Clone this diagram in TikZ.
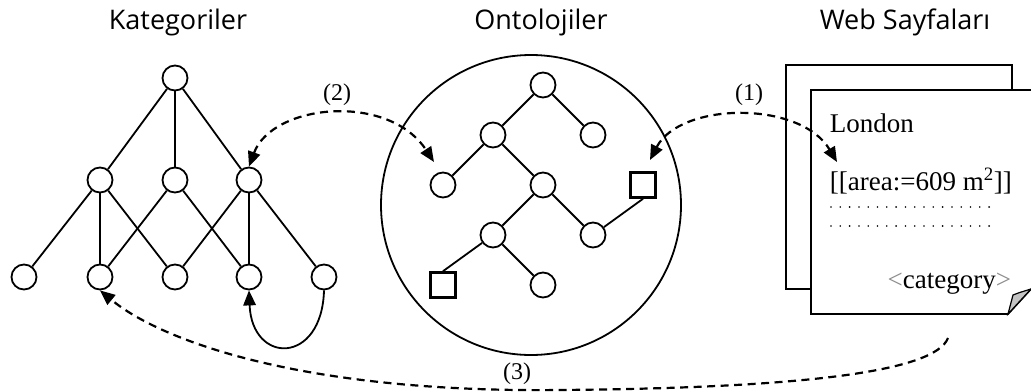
\documentclass[tikz,border=0pt]{standalone}
\usepackage{fontspec}
\setmainfont{Liberation Serif}
\newfontfamily\headfont{Open Sans}
\usetikzlibrary{arrows.meta}
\definecolor{foldgray}{HTML}{C4C4C4}
\definecolor{markgray}{HTML}{8C8C8C}

\begin{document}
\begin{tikzpicture}[x=1pt, y=-1pt, line width=1.8pt,
	>={Triangle[length=15pt, width=12.5pt]},
	vertex/.style={circle, draw, minimum size=25pt, inner sep=0pt},
	leaf/.style={rectangle, draw, minimum size=25pt, inner sep=0pt, line width=2.6pt},
	head/.style={font=\headfont\fontsize{27}{32}\selectfont, anchor=base},
	tag/.style={font=\fontsize{24}{28}\selectfont},
	pagetext/.style={font=\fontsize{27}{32}\selectfont, inner sep=0pt},
	link/.style={dash pattern=on 8pt off 5.5pt, line width=2.2pt}]
	\useasboundingbox (0,0) rectangle (1031,391);
	\clip (0,0) rectangle (1031,391);

	\node[head] (kattitle) at (178,29) {Kategoriler};
	\node[head] (onttitle) at (541,29) {Ontolojiler};
	\node[head] (webtitle) at (905,29) {Web Sayfaları};

	% category lattice
	\node[vertex] (k0) at (175,78) {};
	\foreach \name/\x in {k1/100, k2/175, k3/249}
		\node[vertex] (\name) at (\x,180) {};
	\foreach \name/\x in {b1/24, b2/100, b3/175, b4/249, b5/324}
		\node[vertex] (\name) at (\x,277) {};
	\foreach \a/\b in {k0/k1, k0/k2, k0/k3, k1/b1, k1/b2, k1/b3,
			k2/b2, k2/b4, k3/b3, k3/b4, k3/b5}
		\draw (\a) -- (\b);
	\draw[->] (b5.south) .. controls (322,365) and (252,365) .. (b4.south);

	% ontology tree
	\node[circle, draw, minimum size=300pt, inner sep=0pt] (onto) at (531,205) {};
	\node[vertex] (o0) at (543,85) {};
	\node[vertex] (o1) at (493,135) {};
	\node[vertex] (o2) at (593,135) {};
	\node[vertex] (o3) at (443,185) {};
	\node[vertex] (o4) at (543,185) {};
	\node[leaf] (s1) at (643,185) {};
	\node[vertex] (o5) at (493,235) {};
	\node[vertex] (o6) at (593,235) {};
	\node[leaf] (s2) at (443,285) {};
	\node[vertex] (o7) at (543,285) {};
	\foreach \a/\b in {o0/o1, o0/o2, o1/o3, o1/o4, o4/o5, o4/o6, o5/o7}
		\draw (\a) -- (\b);
	\draw (o6) -- (s1.south);
	\draw (o5) -- (s2.north);

	% web pages
	\draw (786,65) rectangle (1012,289);
	\filldraw[fill=white] (1045,90) -- (811,90) -- (811,314) -- (1008,314) -- (1031,289);
	\filldraw[fill=foldgray, line width=1.2pt] (1008,314) -- (1013,295)
		.. controls (1018,293) .. (1031,289) -- cycle;
	\node[pagetext, anchor=base west] (london) at (829,132) {London};
	\node[pagetext, anchor=base west] (area) at (829,190) {[[area:=609 m\textsuperscript{2}]]};
	\foreach \y in {207,226}
		\foreach \i in {0,...,17}
			\fill (831+\i*9.3,\y) circle[radius=0.9pt];
	\node[pagetext, anchor=base east] (cat) at (1012,288)
		{\textcolor{markgray}{<}category\textcolor{markgray}{>}};

	% mappings between the three parts
	\coordinate (in2) at (434,162);
	\coordinate (in1) at (650,160);
	\coordinate (out1) at (837,162);
	\coordinate (out3) at (948,338);
	\draw[link, <->] (k3.north) .. controls (272,104) and (388,92) .. (in2);
	\draw[link, <->] (in1) .. controls (680,102) and (800,100) .. (out1);
	\draw[link, ->] (out3) .. controls (935,372) and (800,388) .. (560,390)
		.. controls (300,393) and (160,340) .. (b2.south);
	\node[tag] (lab2) at (337,95) {(2)};
	\node[tag] (lab1) at (749,95) {(1)};
	\node[tag] (lab3) at (517,374) {(3)};
\end{tikzpicture}
\end{document}
